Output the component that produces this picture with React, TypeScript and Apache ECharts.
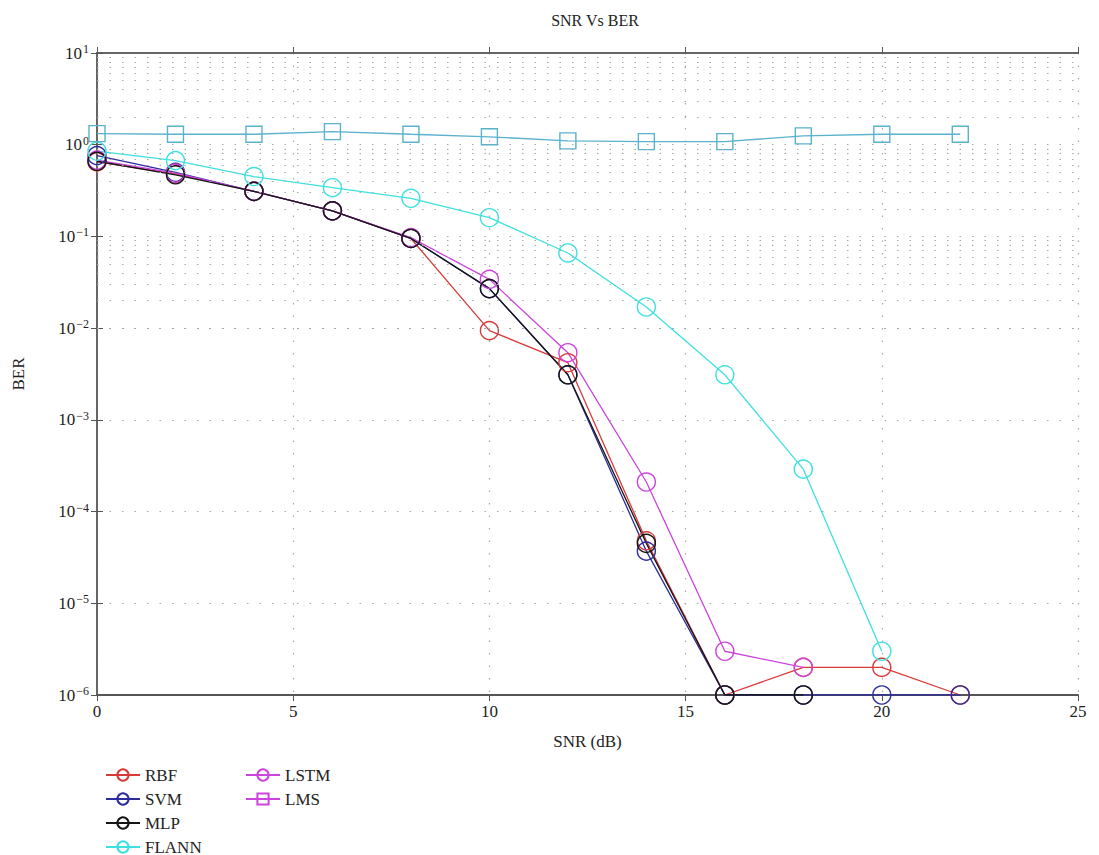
import React, { useEffect, useRef } from "react";
import * as echarts from "echarts";

const snr = [0, 2, 4, 6, 8, 10, 12, 14, 16, 18, 20, 22];
const rbf = [0.65, 0.48, 0.31, 0.19, 0.095, 0.0094, 0.0042, 4.8e-5, 1e-6, 2e-6, 2e-6, 1e-6];
const svm = [0.76, 0.5, 0.31, 0.19, 0.095, 0.027, 0.0031, 3.7e-5, 1e-6, 1e-6, 1e-6, 1e-6];
const mlp = [0.66, 0.47, 0.31, 0.19, 0.095, 0.027, 0.0031, 4.5e-5, 1e-6, 1e-6, null, null];
const flann = [0.85, 0.67, 0.45, 0.34, 0.26, 0.16, 0.066, 0.017, 0.0031, 2.9e-4, 3e-6, null];
const lstm = [0.68, 0.49, 0.31, 0.19, 0.097, 0.034, 0.0054, 2.1e-4, 3e-6, 2e-6, null, null];
const lms = [1.32, 1.3, 1.3, 1.39, 1.3, 1.22, 1.1, 1.08, 1.08, 1.25, 1.3, 1.3];

const xTicks = [0, 5, 10, 15, 20, 25];
const decades = [-6, -5, -4, -3, -2, -1, 0, 1];

const FONT = "'Liberation Serif', 'DejaVu Serif', serif";

function pairs(ys: (number | null)[]) {
  const out: [number, number][] = [];
  ys.forEach((y, i) => {
    if (y !== null) out.push([snr[i], y]);
  });
  return out;
}

export default function App() {
  const ref = useRef<HTMLDivElement>(null);
  useEffect(() => {
    if (!ref.current) return;
    const chart = echarts.init(ref.current, null, { renderer: "svg" });

    const minorLines: any[] = [];
    decades.slice(0, -1).forEach((d) => {
      for (let k = 2; k <= 9; k++) minorLines.push({ yAxis: k * Math.pow(10, d) });
    });

    const mk = (name: string, data: (number | null)[], color: string, symbol = "circle", size = 18) => ({
      name,
      type: "line",
      data: pairs(data),
      symbol,
      symbolSize: size,
      color,
      lineStyle: { color, width: 1.3 },
      itemStyle: { color: "rgba(0,0,0,0)", borderColor: color, borderWidth: 1.4 },
      emphasis: { disabled: true },
      z: 3,
    });

    const dotted = { color: "#a8a8a8", type: [1.5, 11], width: 1.2 };

    const series: any[] = [
      mk("RBF", rbf, "#d83a3a"),
      mk("SVM", svm, "#2c2c9c"),
      mk("LSTM", lstm, "#cc44dd"),
      mk("MLP", mlp, "#151515"),
      mk("FLANN", flann, "#3ee0e0"),
      mk("LMS", lms, "#5ab2cc", "rect", 16),
      {
        name: "grid",
        type: "line",
        data: [],
        silent: true,
        markLine: {
          silent: true,
          symbol: "none",
          label: { show: false },
          lineStyle: dotted,
          data: minorLines,
        },
      },
    ];

    const supFmt = (v: number) => {
      const e = Math.round(Math.log10(v));
      const s = e < 0 ? "\u2212" + Math.abs(e) : String(e);
      return "{b|10}{sup|" + s + "}";
    };

    const legendText = { fontFamily: FONT, fontSize: 17, color: "#222", lineHeight: 18 };

    chart.setOption({
      animation: false,
      backgroundColor: "#ffffff",
      textStyle: { fontFamily: FONT },
      title: {
        text: "SNR Vs BER",
        left: 590,
        top: 7,
        textAlign: "center",
        textStyle: { fontFamily: FONT, fontSize: 16, fontWeight: "normal", color: "#222" },
      },
      grid: { left: 97, right: 21, top: 53, bottom: 160 },
      legend: [
        {
          data: ["RBF", "SVM", "MLP", "FLANN"],
          orient: "vertical",
          left: 100,
          top: 761,
          height: 94,
          itemWidth: 34,
          itemHeight: 14,
          itemGap: 6,
          textStyle: legendText,
        },
        {
          data: [
            "LSTM",
            { name: "LMS", itemStyle: { color: "rgba(0,0,0,0)", borderColor: "#cc44dd" }, lineStyle: { color: "#cc44dd" } },
          ],
          orient: "vertical",
          left: 240,
          top: 761,
          itemWidth: 34,
          itemHeight: 14,
          itemGap: 6,
          textStyle: legendText,
        },
      ],
      xAxis: [
        {
          type: "value",
          min: 0,
          max: 25,
          interval: 5,
          name: "SNR (dB)",
          nameLocation: "middle",
          nameGap: 38,
          nameTextStyle: { fontFamily: FONT, fontSize: 17, color: "#222" },
          axisLine: { lineStyle: { color: "#555", width: 2 } },
          axisTick: { inside: false, length: 6, lineStyle: { color: "#555" } },
          axisLabel: {
            fontFamily: FONT,
            fontSize: 17,
            color: "#222",
            formatter: (v: number) => (xTicks.includes(v) ? String(v) : ""),
          },
          splitLine: { show: true, lineStyle: dotted },
        },
        {
          type: "value",
          position: "top",
          min: 0,
          max: 25,
          interval: 5,
          axisLine: { show: true, lineStyle: { color: "#666", width: 2 } },
          axisTick: { show: true, length: 6, lineStyle: { color: "#555" } },
          axisLabel: { show: false },
          splitLine: { show: false },
        },
      ],
      yAxis: [
        {
          type: "log",
          logBase: 10,
          min: 1e-6,
          max: 10,
          interval: 1,
          name: "BER",
          nameLocation: "middle",
          nameGap: 70,
          nameTextStyle: { fontFamily: FONT, fontSize: 17, color: "#222" },
          axisLine: { show: true, lineStyle: { color: "#555", width: 2 } },
          axisTick: { show: true, length: 6, lineStyle: { color: "#555" } },
          axisLabel: {
            fontFamily: FONT,
            fontSize: 17,
            color: "#222",
            formatter: supFmt,
            rich: {
              b: { fontFamily: FONT, fontSize: 17, color: "#222" },
              sup: { fontFamily: FONT, fontSize: 12, color: "#222", verticalAlign: "top", padding: [0, 0, 8, 1] },
            },
          },
          splitLine: { show: true, lineStyle: dotted },
        },
        {
          type: "log",
          logBase: 10,
          min: 1e-6,
          max: 10,
          interval: 1,
          position: "right",
          axisLine: { show: true, lineStyle: { color: "#666", width: 2 } },
          axisTick: { show: true, length: 6, lineStyle: { color: "#555" } },
          axisLabel: { show: false },
          splitLine: { show: false },
        },
      ],
      series,
    });
    return () => chart.dispose();
  }, []);
  return (
    <div
      ref={ref}
      style={{ position: "fixed", left: 0, top: 0, width: 1099, height: 855, background: "#fff" }}
    />
  );
}
